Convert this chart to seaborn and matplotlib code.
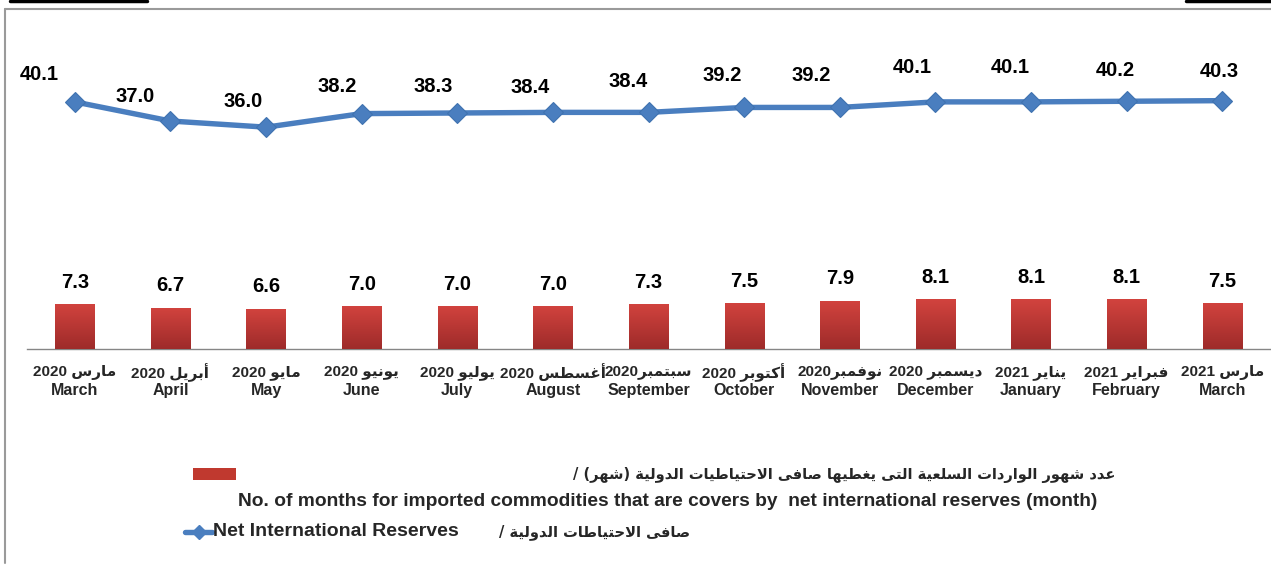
import re

import matplotlib.pyplot as plt
import numpy as np
import pandas as pd
import seaborn as sns
from matplotlib.colors import LinearSegmentedColormap
from matplotlib.lines import Line2D
from matplotlib.patches import Rectangle

# =========================================
# DATA
# =========================================

month_labels_ar = [
    "مارس 2020", "أبريل 2020", "مايو 2020", "يونيو 2020", "يوليو 2020",
    "أغسطس 2020", "سبتمبر2020", "أكتوبر 2020", "نوفمبر2020",
    "ديسمبر 2020", "يناير 2021", "فبراير 2021", "مارس 2021",
]
month_labels_en = [
    "March", "April", "May", "June", "July", "August", "September",
    "October", "November", "December", "January", "February", "March",
]
months_cover = [7.3, 6.7, 6.6, 7.0, 7.0, 7.0, 7.3, 7.5, 7.9, 8.1, 8.1, 8.1, 7.5]
net_reserves = [40.1, 37.0, 36.0, 38.2, 38.3, 38.4, 38.4, 39.2, 39.2,
                40.1, 40.1, 40.2, 40.3]

legend_bar_ar = "عدد شهور الواردات السلعية التى يغطيها صافى الاحتياطيات الدولية (شهر) /"
legend_bar_en = ("No. of months for imported commodities that are covers by  "
                 "net international reserves (month)")
legend_line_en = "Net International Reserves"
legend_line_ar = "صافى الاحتياطات الدولية /"

# label nudges (pixels) for the reserves labels, as placed in the original
line_label_shift = [(-36, 27), (-35, 25), (-23, 26), (-24, 27), (-24, 26),
                    (-23, 25), (-20, 31), (-22, 32), (-29, 32), (-23, 34),
                    (-21, 34), (-11, 31), (-3, 29)]

# =========================================
# SMALL ARABIC SHAPER (matplotlib has no bidi / shaping)
# =========================================

DUAL = {
    "ب": 0xFE8F, "ت": 0xFE95, "ث": 0xFE99, "ج": 0xFE9D, "ح": 0xFEA1,
    "خ": 0xFEA5, "س": 0xFEB1, "ش": 0xFEB5, "ص": 0xFEB9, "ض": 0xFEBD,
    "ط": 0xFEC1, "ظ": 0xFEC5, "ع": 0xFEC9, "غ": 0xFECD, "ف": 0xFED1,
    "ق": 0xFED5, "ك": 0xFED9, "ل": 0xFEDD, "م": 0xFEE1, "ن": 0xFEE5,
    "ه": 0xFEE9, "ي": 0xFEF1,
}
RIGHT = {
    "ا": 0xFE8D, "أ": 0xFE83, "إ": 0xFE87, "آ": 0xFE81, "ة": 0xFE93,
    "د": 0xFEA9, "ذ": 0xFEAB, "ر": 0xFEAD, "ز": 0xFEAF, "و": 0xFEED,
    "ى": 0xFEEF,
}
LAMALEF = {"ا": 0xFEFB, "أ": 0xFEF7, "إ": 0xFEF9, "آ": 0xFEF5}
MIRROR = str.maketrans("()", ")(")


def shape(text):
    toks = []
    i = 0
    while i < len(text):
        c = text[i]
        if c == "ل" and i + 1 < len(text) and text[i + 1] in LAMALEF:
            toks.append(("R", LAMALEF[text[i + 1]]))
            i += 2
            continue
        if c in DUAL:
            toks.append(("D", DUAL[c]))
        elif c in RIGHT:
            toks.append(("R", RIGHT[c]))
        else:
            toks.append((None, c))
        i += 1

    out = []
    for k, (kind, val) in enumerate(toks):
        if kind is None:
            out.append(val)
            continue
        prev = toks[k - 1][0] if k > 0 else None
        nxt = toks[k + 1][0] if k + 1 < len(toks) else None
        jp = prev == "D"
        jn = kind == "D" and nxt in ("D", "R")
        if jp and jn:
            off = 3
        elif jp:
            off = 1
        elif jn:
            off = 2
        else:
            off = 0
        out.append(chr(val + off))
    return "".join(out)


def rtl(text):
    runs = re.split(r"(\d+)", shape(text))
    out = []
    for run in reversed(runs):
        if run.isdigit():
            out.append(run)
        else:
            out.append(run[::-1].translate(MIRROR))
    return "".join(out)


# =========================================
# FIGURE
# =========================================

sns.set_style("white")
plt.rcParams["font.family"] = ["Liberation Sans", "DejaVu Sans"]
plt.rcParams["font.weight"] = "bold"

W, H = 1271, 565
fig = plt.figure(figsize=(W / 100, H / 100), dpi=100)


def fx(px):
    return px / W


def fy(py):
    return 1 - py / H


ax = fig.add_axes([fx(27), fy(349.3), fx(1270) - fx(27), (349.3 - 40.8) / H])

df = pd.DataFrame({
    "pos": np.arange(len(months_cover)),
    "cover": months_cover,
    "reserves": net_reserves,
})

sns.barplot(data=df, x="pos", y="cover", color="#c0392f", width=0.41,
            saturation=1, ax=ax, zorder=2)

# vertical red gradient inside each bar
grad = np.linspace(0, 1, 64).reshape(-1, 1)
bar_cmap = LinearSegmentedColormap.from_list("bar", ["#9e2b2a", "#d2433e"])
for patch in ax.patches:
    x0, y0 = patch.get_x(), patch.get_y()
    w, h = patch.get_width(), patch.get_height()
    im = ax.imshow(grad, cmap=bar_cmap, origin="lower", aspect="auto",
                   extent=[x0, x0 + w, y0, y0 + h], zorder=3)
    im.set_clip_path(patch)

sns.lineplot(data=df, x="pos", y="reserves", color="#4a7ebf", linewidth=3.9,
             marker="D", markersize=10, markeredgecolor="#3f72b0",
             markeredgewidth=0.8, ax=ax, zorder=4)

ax.set_xlim(-0.5, len(months_cover) - 0.5)
ax.set_ylim(0, 50)

# value labels
for i, v in enumerate(months_cover):
    ax.annotate(f"{v:.1f}", (i, v), xytext=(0, 22), textcoords="offset pixels",
                ha="center", va="center", fontsize=14.5, fontweight="bold",
                color="black")

for i, v in enumerate(net_reserves):
    dx, dy = line_label_shift[i]
    ax.annotate(f"{v:.1f}", (i, v), xytext=(dx, dy),
                textcoords="offset pixels", ha="center", va="center",
                fontsize=14.5, fontweight="bold", color="black")

# x axis: English month as tick label, Arabic month + year above it
ax.set_xticks(np.arange(len(months_cover)))
ax.set_xticklabels(month_labels_en, fontsize=11.5, fontweight="bold")
ax.set_xticks(np.arange(-0.5, len(months_cover)), minor=True)
ax.tick_params(axis="x", which="major", length=0, pad=24)
ax.tick_params(axis="x", which="minor", length=4, width=1, color="#868686")

for i, lbl in enumerate(month_labels_ar):
    ax.annotate(rtl(lbl), (i, 0), xycoords=("data", "axes fraction"),
                xytext=(0, -23), textcoords="offset pixels", ha="center",
                va="center", fontsize=11, fontweight="bold",
                annotation_clip=False)

ax.set_yticks([])
ax.set_xlabel("")
ax.set_ylabel("")

for side in ["left", "top", "right"]:
    ax.spines[side].set_visible(False)
ax.spines["bottom"].set_color("#868686")
ax.spines["bottom"].set_linewidth(1)

# =========================================
# LEGEND (built by hand, as in the original layout)
# =========================================

fig.patches.append(Rectangle((fx(193), fy(480)), fx(236) - fx(193),
                             fy(468) - fy(480), transform=fig.transFigure,
                             facecolor="#c0392f", edgecolor="none"))
fig.text(fx(1115), fy(475), rtl(legend_bar_ar), ha="right", va="center",
         fontsize=10.5, fontweight="bold", family=["DejaVu Sans"])
fig.text(fx(238), fy(502), legend_bar_en, ha="left", va="center",
         fontsize=13.8, fontweight="bold")

fig.lines.append(Line2D([fx(185), fx(212)], [fy(532), fy(532)],
                        transform=fig.transFigure, color="#4a7ebf",
                        linewidth=3.9))
fig.lines.append(Line2D([fx(198.5)], [fy(532)], transform=fig.transFigure,
                        color="#4a7ebf", marker="D", markersize=7))
fig.text(fx(213), fy(532), legend_line_en, ha="left", va="center",
         fontsize=14, fontweight="bold")
fig.text(fx(690), fy(532), rtl(legend_line_ar), ha="right", va="center",
         fontsize=10.5, fontweight="bold", family=["DejaVu Sans"])

# =========================================
# FRAME
# =========================================

fig.lines.append(Line2D([fx(5), fx(5)], [fy(9), fy(563)],
                        transform=fig.transFigure, color="#9a9a9a",
                        linewidth=1.5))
fig.lines.append(Line2D([fx(5), fx(1271)], [fy(9), fy(9)],
                        transform=fig.transFigure, color="#9a9a9a",
                        linewidth=1.5))
fig.lines.append(Line2D([fx(10), fx(147)], [fy(1), fy(1)],
                        transform=fig.transFigure, color="black", linewidth=2.5))
fig.lines.append(Line2D([fx(1186), fx(1271)], [fy(1), fy(1)],
                        transform=fig.transFigure, color="black", linewidth=2.5))

fig.savefig("out.png", dpi=100)
